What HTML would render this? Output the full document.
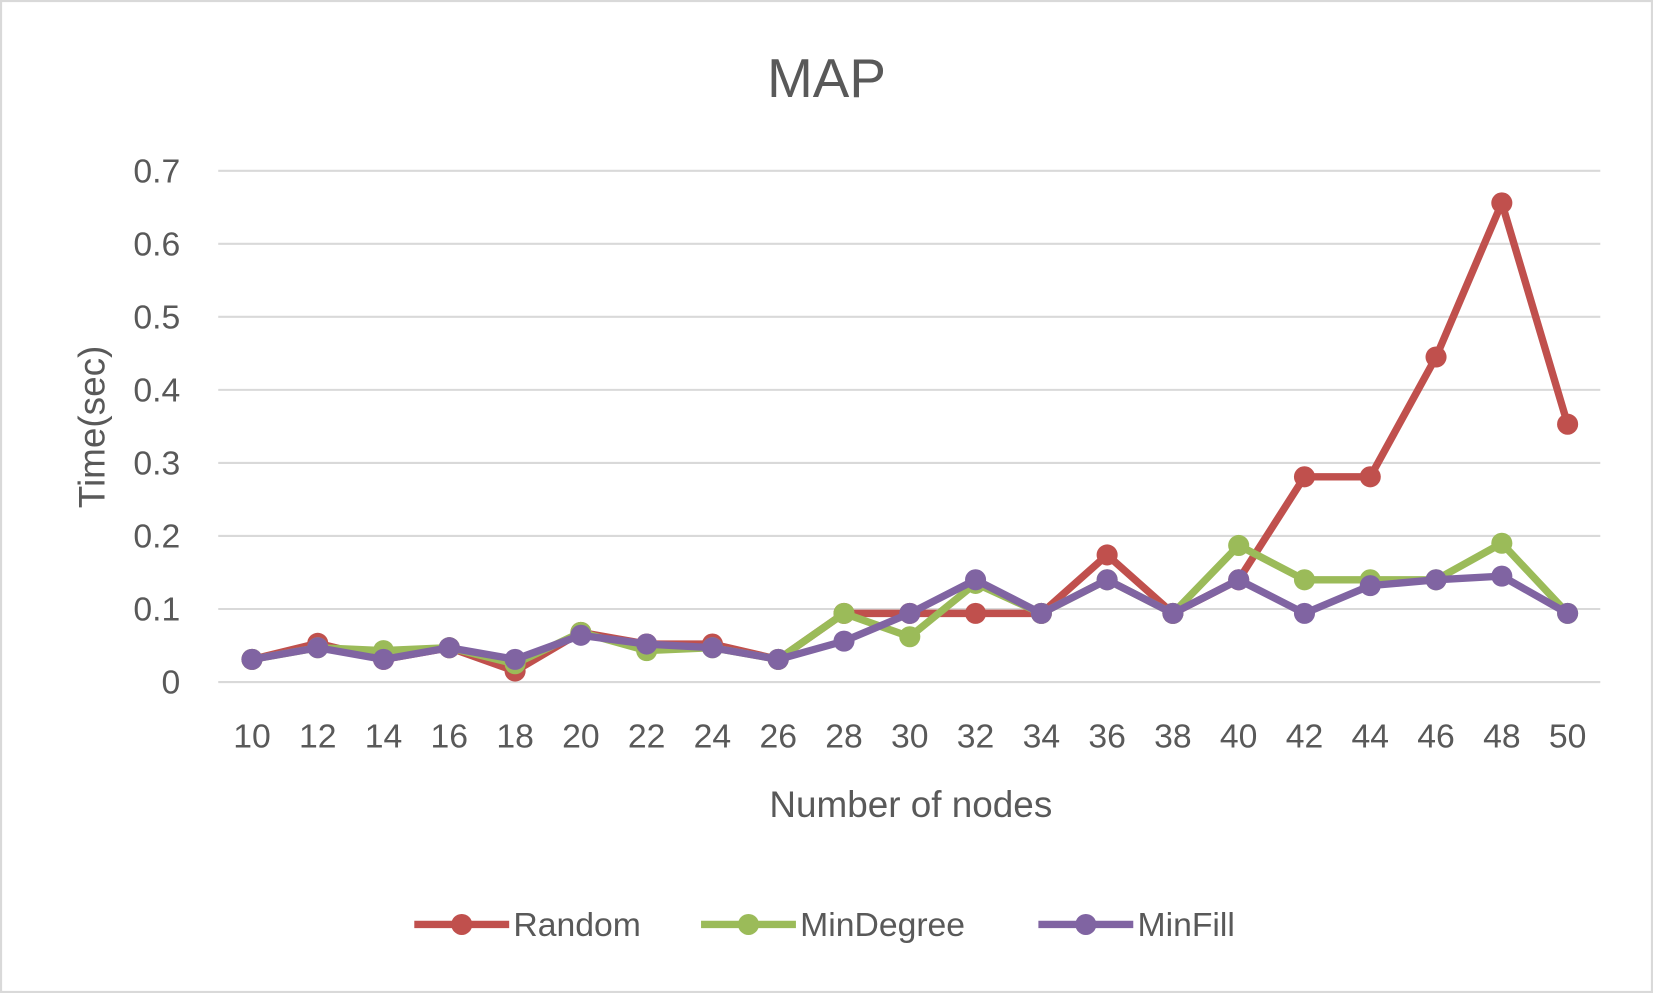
<!DOCTYPE html>
<html><head><meta charset="utf-8"><style>
html,body{margin:0;padding:0;background:#fff}
svg{display:block;font-family:"Liberation Sans",sans-serif}
</style></head><body>
<svg id="chart" width="1653" height="993" viewBox="0 0 1568 942" preserveAspectRatio="none">
<rect x="1" y="1" width="1566" height="940" fill="#fff" stroke="#d9d9d9" stroke-width="2"/>
<text x="784" y="92" font-size="52" fill="#595959" text-anchor="middle">MAP</text>
<g id="grid"></g><g id="ylabels"></g><g id="xlabels"></g><g id="series"></g>
<text x="0" y="0" transform="translate(99,405) rotate(-90)" font-size="35" fill="#595959" text-anchor="middle">Time(sec)</text>
<text x="864" y="775" font-size="35" fill="#595959" text-anchor="middle">Number of nodes</text>
<g id="legend"></g>
</svg>
<script>
const categories=[10,12,14,16,18,20,22,24,26,28,30,32,34,36,38,40,42,44,46,48,50];
const randomVals=[0.031,0.053,0.031,0.047,0.015,0.068,0.052,0.052,0.031,0.094,0.094,0.094,0.094,0.174,0.094,0.14,0.281,0.281,0.445,0.656,0.353];
const minDegreeVals=[0.031,0.047,0.043,0.047,0.025,0.068,0.043,0.047,0.031,0.094,0.062,0.135,0.094,0.14,0.094,0.187,0.14,0.14,0.14,0.19,0.094];
const minFillVals=[0.031,0.047,0.031,0.047,0.031,0.064,0.052,0.047,0.031,0.056,0.094,0.14,0.094,0.14,0.094,0.14,0.094,0.132,0.14,0.145,0.094];
const yTicks=[0,0.1,0.2,0.3,0.4,0.5,0.6,0.7];
const seriesNames=["Random","MinDegree","MinFill"];
const NS="http://www.w3.org/2000/svg";
function x(i){return 239+i*(1487-239)/(categories.length-1);}
function y(v){return 647-v*(647-162)/0.7;}
function mk(t,a,p){const e=document.createElementNS(NS,t);for(const k in a)e.setAttribute(k,a[k]);p.appendChild(e);return e;}
const grid=document.getElementById('grid'),yl=document.getElementById('ylabels'),xl=document.getElementById('xlabels'),sg=document.getElementById('series'),lg=document.getElementById('legend');
yTicks.forEach(t=>{
 const l=mk('line',{x1:207,x2:1518,y1:y(t),y2:y(t),stroke:'#d9d9d9','stroke-width':2},grid);
 
 
 const tx=mk('text',{x:171,y:y(t)+11,'font-size':32,fill:'#595959','text-anchor':'end'},yl);
 tx.textContent=String(t);
 
 
});
categories.forEach((c,i)=>{
 const tx=mk('text',{x:x(i),y:709,'font-size':32,fill:'#595959','text-anchor':'middle'},xl);
 tx.textContent=c;
 
 
});
const colors=['#C0504D','#9BBB59','#8064A2'];
[randomVals,minDegreeVals,minFillVals].forEach((vals,s)=>{
 const g=mk('g',{},sg);
 
 
 const pl=mk('polyline',{points:vals.map((v,i)=>x(i)+','+y(v)).join(' '),fill:'none',stroke:colors[s],'stroke-width':7,'stroke-linejoin':'round'},g);
 
 
 vals.forEach((v,i)=>{
  const c=mk('circle',{cx:x(i),cy:y(v),r:10,fill:colors[s]},g);
  
  
 });
});
const lx=[393,665,985];
seriesNames.forEach((n,s)=>{
 const g=mk('g',{},lg);
 
 
 mk('line',{x1:lx[s],x2:lx[s]+90,y1:877,y2:877,stroke:colors[s],'stroke-width':7},g);
 mk('circle',{cx:lx[s]+45,cy:877,r:10,fill:colors[s]},g);
 const t=mk('text',{x:lx[s]+94,y:888,'font-size':32,fill:'#595959'},g);
 t.textContent=n;
});
</script>
</body></html>
